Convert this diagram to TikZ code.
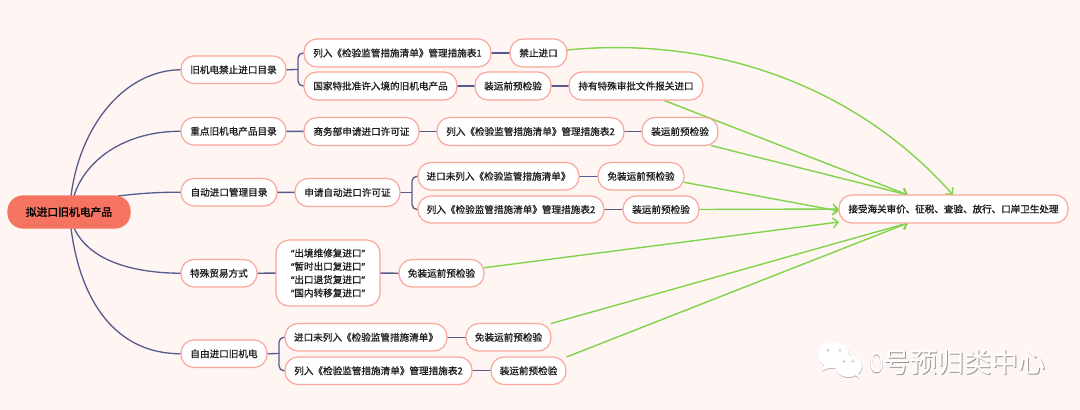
\documentclass[tikz,border=0pt]{standalone}
\usepackage{fontspec}
\setmainfont[FakeBold=0.9]{Noto Sans CJK SC}
\newfontfamily\qf[FakeBold=0.9]{Noto Sans}
\newfontfamily\hf[FakeBold=1.5]{Noto Sans CJK SC}
\newfontfamily\wmf{Noto Sans CJK SC}
\usetikzlibrary{arrows.meta,backgrounds}
\definecolor{bgc}{HTML}{FFF5F3}
\definecolor{edgec}{HTML}{F9A79B}
\definecolor{rootc}{HTML}{F47461}
\definecolor{linkc}{HTML}{565A8E}
\definecolor{greenc}{HTML}{80D44B}
\definecolor{txtc}{HTML}{1E1E1E}
\tikzset{
  box/.style={draw=edgec,line width=1.2pt,fill=white,rounded corners=13pt,inner sep=0pt,outer sep=0pt,
    align=center,text=txtc,font=\fontsize{9.6pt}{13.3pt}\selectfont},
  rootbox/.style={box,draw=rootc,fill=rootc,rounded corners=15pt,text=black,font=\hf\fontsize{10.8pt}{13pt}\selectfont},
  goalbox/.style={box,font=\hf\fontsize{9.55pt}{13pt}\selectfont},
  link/.style={draw=linkc,line width=1.3pt},
  flow/.style={draw=greenc,line width=1.4pt,-{Straight Barb[length=5pt,width=10pt,line width=1.4pt]}},
}
\newcommand\nd[7][box]{\node[#1,minimum width={#4-#3},minimum height={#6-#5}] (#2) at ({(#3+#4)/2},{(#5+#6)/2}) {#7};}
\begin{document}
\begin{tikzpicture}[x=1pt,y=-1pt]
\useasboundingbox (0,0) rectangle (1080,410);
\begin{scope}[on background layer]
\fill[bgc] (0,0) rectangle (1080,410);
\end{scope}
\nd[rootbox]{root}{8}{130}{196}{228}{拟进口旧机电产品}
\nd{n1}{181}{286}{56}{83.5}{旧机电禁止进口目录}
\nd{n2}{181}{286}{117.5}{145}{重点旧机电产品目录}
\nd{n3}{181}{277}{178.5}{206}{自动进口管理目录}
\nd{n4}{181}{257}{259.5}{287}{特殊贸易方式}
\nd{n5}{181}{267}{340}{367.5}{自由进口旧机电}
\nd{a1}{304}{491}{39}{67}{列入《检验监管措施清单》管理措施表1}
\nd{a2}{510}{567}{39}{67}{禁止进口}
\nd{b1}{304}{457}{72}{100}{国家特批准许入境的旧机电产品}
\nd{b2}{475}{551}{72}{100}{装运前预检验}
\nd{b3}{569}{703}{72}{100}{持有特殊审批文件报关进口}
\nd{c1}{304}{419}{117.5}{145.5}{商务部申请进口许可证}
\nd{c2}{437}{624}{117.5}{145.5}{列入《检验监管措施清单》管理措施表2}
\nd{c3}{642}{718}{117.5}{145.5}{装运前预检验}
\nd{d1}{295}{400}{178.5}{206.5}{申请自动进口许可证}
\nd{e1}{418}{579}{162.5}{190}{进口未列入《检验监管措施清单》}
\nd{e2}{598}{684}{162.5}{190}{免装运前预检验}
\nd{f1}{418}{604}{196}{223}{列入《检验监管措施清单》管理措施表2}
\nd{f2}{623}{699}{196}{223}{装运前预检验}
\nd{g1}{276}{380}{240}{306}{{\qf “}出境维修复进口{\qf ”}\\{\qf “}暂时出口复进口{\qf ”}\\{\qf “}出口退货复进口{\qf ”}\\{\qf “}国内转移复进口{\qf ”}}
\nd{g2}{399}{484}{259.5}{287}{免装运前预检验}
\nd{h1}{285}{447}{323.5}{351}{进口未列入《检验监管措施清单》}
\nd{h2}{466}{551}{323.5}{351}{免装运前预检验}
\nd{i1}{285}{472}{357}{384.5}{列入《检验监管措施清单》管理措施表2}
\nd{i2}{491}{566}{357}{384.5}{装运前预检验}
\nd[goalbox]{t}{839}{1068}{195}{223}{接受海关审价、征税、查验、放行、口岸卫生处理}
\coordinate (br1) at (298,69.5);
\coordinate (br3) at (412,192.5);
\coordinate (br5) at (279,353.5);
\begin{scope}[on background layer]
\draw[link] ([xshift=2pt]root.north) .. controls (80,125) and (125,70) .. (n1.west);
\draw[link] ([xshift=5pt]root.north) .. controls (85,160) and (125,131) .. (n2.west);
\draw[link] ([xshift=49pt]root.north) .. controls (135,194) and (155,192) .. (n3.west);
\draw[link] ([xshift=5pt]root.south) .. controls (90,262) and (135,273) .. (n4.west);
\draw[link] ([xshift=2pt]root.south) .. controls (80,300) and (115,354) .. (n5.west);
\draw[link] (n1.east) -- (br1);
\draw[link,rounded corners=5pt] (a1.west) -| (br1) |- (b1.west);
\draw[link] (a1) -- (a2);
\draw[link] (b1) -- (b2);
\draw[link] (b2) -- (b3);
\draw[link] (n2) -- (c1);
\draw[link] (c1) -- (c2);
\draw[link] (c2) -- (c3);
\draw[link] (n3) -- (d1);
\draw[link] (d1.east) -- (br3);
\draw[link,rounded corners=5pt] (e1.west) -| (br3) |- (f1.west);
\draw[link] (e1) -- (e2);
\draw[link] (f1) -- (f2);
\draw[link] (n4) -- (g1);
\draw[link] (g1) -- (g2);
\draw[link] (n5.east) -- (br5);
\draw[link,rounded corners=5pt] (h1.west) -| (br5) |- (i1.west);
\draw[link] (h1) -- (h2);
\draw[link] (i1) -- (i2);
\draw[flow] ([yshift=3pt]a2.east) .. controls (720,35) and (860,90) .. ([xshift=-0.5pt]t.north);
\draw[flow] ([xshift=27pt]b3.south) -- ([xshift=-45.5pt]t.north);
\draw[flow] ([xshift=31pt]c3.south) -- ([xshift=-45.5pt]t.north);
\draw[flow] ([yshift=-6pt]e2.east) -- ([yshift=-2pt]t.west);
\draw[flow] (f2.east) -- (t.west);
\draw[flow] ([yshift=5.5pt]g2.east) -- ([yshift=-13pt]t.west);
\draw[flow] ([xshift=42.5pt]h2.north) -- ([xshift=-45.5pt]t.south);
\draw[flow] ([xshift=38pt]i2.north) -- ([xshift=-45.5pt]t.south);
\end{scope}
% watermark
\fill[gray!55] (834,356) ellipse (15.5 and 13);
\fill[gray!55] (822,371.5) -- (826,364) -- (832,368) -- cycle;
\fill[white] (833.5,355) ellipse (15.5 and 13);
\fill[white] (822,370.5) -- (826,363) -- (832,367) -- cycle;
\fill[gray!55] (849,367.5) ellipse (13.5 and 10.5);
\fill[gray!55] (859,379) -- (852,373) -- (858,371) -- cycle;
\fill[white] (848.5,366.5) ellipse (13.5 and 10.5);
\fill[white] (859,378) -- (852,372) -- (858,370) -- cycle;
\foreach \p/\q in {828/350,840/350,844/361,853/361}{\fill[gray!55] (\p,\q) circle (1.6);\fill[white] (\p,\q-0.5) circle (0.9);}
\node[text=gray!80,font=\wmf\fontsize{27pt}{27pt}\selectfont,inner sep=0pt] (wms) at (958.4,362.9) {0号预归类中心};
\node[text=white,font=\wmf\fontsize{27pt}{27pt}\selectfont,inner sep=0pt] (wm) at (957.5,362) {0号预归类中心};
\end{tikzpicture}
\end{document}
